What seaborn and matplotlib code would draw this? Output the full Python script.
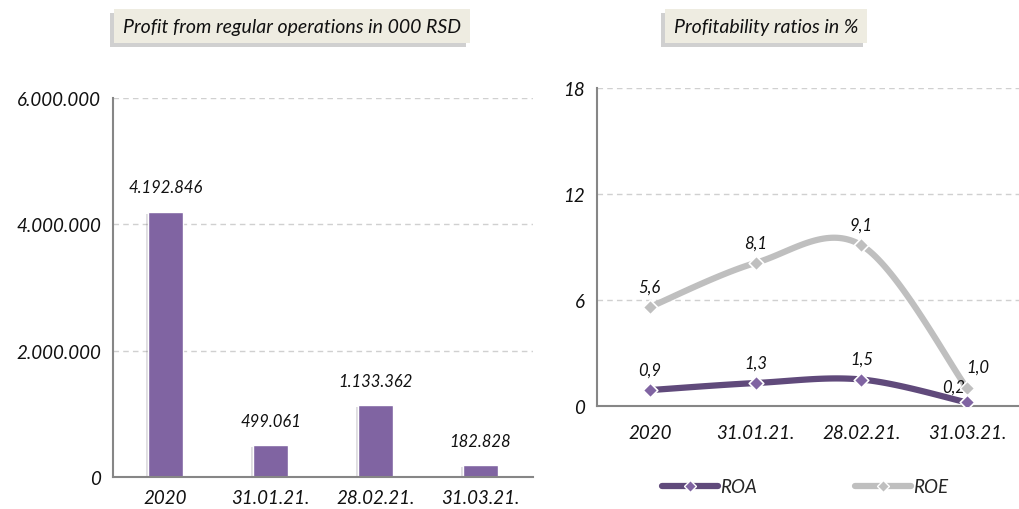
import numpy as np
import pandas as pd
import matplotlib
matplotlib.use('Agg')
import matplotlib.pyplot as plt
import matplotlib.patheffects as pe
from matplotlib.lines import Line2D
import seaborn as sns

# data
periods = ['2020', '31.01.21.', '28.02.21.', '31.03.21.']
profit = [4192846, 499061, 1133362, 182828]
roa = [0.9, 1.3, 1.5, 0.2]
roe = [5.6, 8.1, 9.1, 1.0]

sns.set_style('white')
plt.rcParams['font.family'] = ['Lato', 'DejaVu Sans']
plt.rcParams['font.style'] = 'italic'

bar_col = '#8064A2'
roa_col = '#604A7B'
roe_col = '#BFBFBF'
axis_col = '#868686'
txt_col = '#111111'


def catmull(xs, ys, n=40):
    # smoothed line like the spreadsheet's "smoothed line" option
    xs = np.asarray(xs, float)
    ys = np.asarray(ys, float)
    px = np.concatenate([[xs[0]], xs, [xs[-1]]])
    py = np.concatenate([[ys[0]], ys, [ys[-1]]])
    outx, outy = [], []
    for i in range(1, len(px) - 2):
        t = np.linspace(0, 1, n)
        for arr, out in ((px, outx), (py, outy)):
            p0, p1, p2, p3 = arr[i - 1], arr[i], arr[i + 1], arr[i + 2]
            out.extend(0.5 * ((2 * p1) + (-p0 + p2) * t +
                              (2 * p0 - 5 * p1 + 4 * p2 - p3) * t ** 2 +
                              (-p0 + 3 * p1 - 3 * p2 + p3) * t ** 3))
    return np.array(outx), np.array(outy)


def style_axes(ax):
    for s in ['top', 'right']:
        ax.spines[s].set_visible(False)
    for s in ['left', 'bottom']:
        ax.spines[s].set_color(axis_col)
        ax.spines[s].set_linewidth(1.5)
    ax.set_xticks(np.arange(len(periods)))
    ax.set_xticklabels(periods)
    ax.set_xticks(np.arange(len(periods) + 1) - 0.5, minor=True)
    ax.tick_params(axis='x', which='major', length=0, labelsize=13.5, labelcolor=txt_col)
    ax.tick_params(axis='x', which='minor', length=5, width=1.2, color=axis_col, direction='out')
    ax.tick_params(axis='y', length=5, width=1.2, color=axis_col, direction='out',
                   labelsize=13.5, labelcolor=txt_col)
    ax.set_xlabel('')
    ax.set_ylabel('')


fig = plt.figure(figsize=(10.2, 5.1), dpi=100)
W, H = 1020, 510

# left: profit bars
ax1 = fig.add_axes([113 / W, (H - 478) / H, 420 / W, (478 - 99) / H])
df = pd.DataFrame({'period': periods, 'profit': profit})
sns.barplot(data=df, x='period', y='profit', color=bar_col, width=0.33,
            saturation=1, ax=ax1)
for p in ax1.patches:
    p.set_path_effects([pe.SimplePatchShadow(offset=(-1.5, -1), alpha=0.15), pe.Normal()])
ax1.set_ylim(0, 6000000)
ax1.set_xlim(-0.5, 3.5)
ax1.set_yticks([0, 2000000, 4000000, 6000000])
ax1.set_yticklabels([f'{v:,}'.replace(',', '.') for v in [0, 2000000, 4000000, 6000000]])
for y in [2000000, 4000000, 6000000]:
    ax1.axhline(y, color='#D0D0D0', lw=1, ls=(0, (4, 3)), zorder=0)
for i, v in enumerate(profit):
    ax1.annotate(f'{v:,}'.replace(',', '.'), (i, v), xytext=(0, 12), textcoords='offset points',
                 ha='center', va='bottom', fontsize=12, color=txt_col)
style_axes(ax1)
ax1.tick_params(axis='x', pad=9)

# right: ratios
ax2 = fig.add_axes([597 / W, (H - 407) / H, 423 / W, (407 - 89) / H])
xi = np.arange(len(periods))
for vals, col in ((roe, roe_col), (roa, roa_col)):
    sx, sy = catmull(xi, vals)
    ax2.plot(sx, sy, color=col, lw=4.5, solid_capstyle='round', zorder=3)
    sns.scatterplot(x=xi, y=vals, marker='D', s=55, color=bar_col if col == roa_col else roe_col,
                    edgecolor='white', linewidth=1.2, zorder=4, ax=ax2)
ax2.set_ylim(0, 18)
ax2.set_xlim(-0.5, 3.44)
ax2.set_yticks([0, 6, 12, 18])
for y in [6, 12, 18]:
    ax2.axhline(y, color='#D0D0D0', lw=1, ls=(0, (4, 3)), zorder=0)

def dec(v):
    return f'{v:.1f}'.replace('.', ',')

offs_roe = [(0, 9), (0, 9), (0, 9), (8, 10)]
offs_roa = [(0, 9), (0, 9), (0, 9), (-10, 6)]
for i in range(len(periods)):
    ax2.annotate(dec(roe[i]), (i, roe[i]), xytext=offs_roe[i], textcoords='offset points',
                 ha='center', va='bottom', fontsize=12, color=txt_col)
    ax2.annotate(dec(roa[i]), (i, roa[i]), xytext=offs_roa[i], textcoords='offset points',
                 ha='center', va='bottom', fontsize=12, color=txt_col)
style_axes(ax2)
ax2.tick_params(axis='x', pad=13)

# legend
handles = [Line2D([], [], color=roa_col, lw=4.5, marker='D', markersize=6,
                  markerfacecolor=bar_col, markeredgecolor='white'),
           Line2D([], [], color=roe_col, lw=4.5, marker='D', markersize=6,
                  markerfacecolor=roe_col, markeredgecolor='white')]
fig.legend(handles, ['ROA', 'ROE'], loc='center', bbox_to_anchor=(805 / W, 1 - 488 / H),
           ncol=2, frameon=False, fontsize=13.5, handlelength=3.0, handletextpad=0.1,
           columnspacing=5.2)

# title boxes
for txt, cx, cy in (('Profit from regular operations in 000 RSD', 292, 27),
                    ('Profitability ratios in %', 766, 27)):
    t = fig.text(cx / W, 1 - cy / H, txt, ha='center', va='center', fontsize=14,
                 color=txt_col,
                 bbox=dict(boxstyle='square,pad=0.45', fc='#EEECE1', ec='none'))
    t.get_bbox_patch().set_path_effects([pe.SimplePatchShadow(offset=(-3, -3), alpha=0.25),
                                         pe.Normal()])

fig.savefig('out.png', dpi=100)
